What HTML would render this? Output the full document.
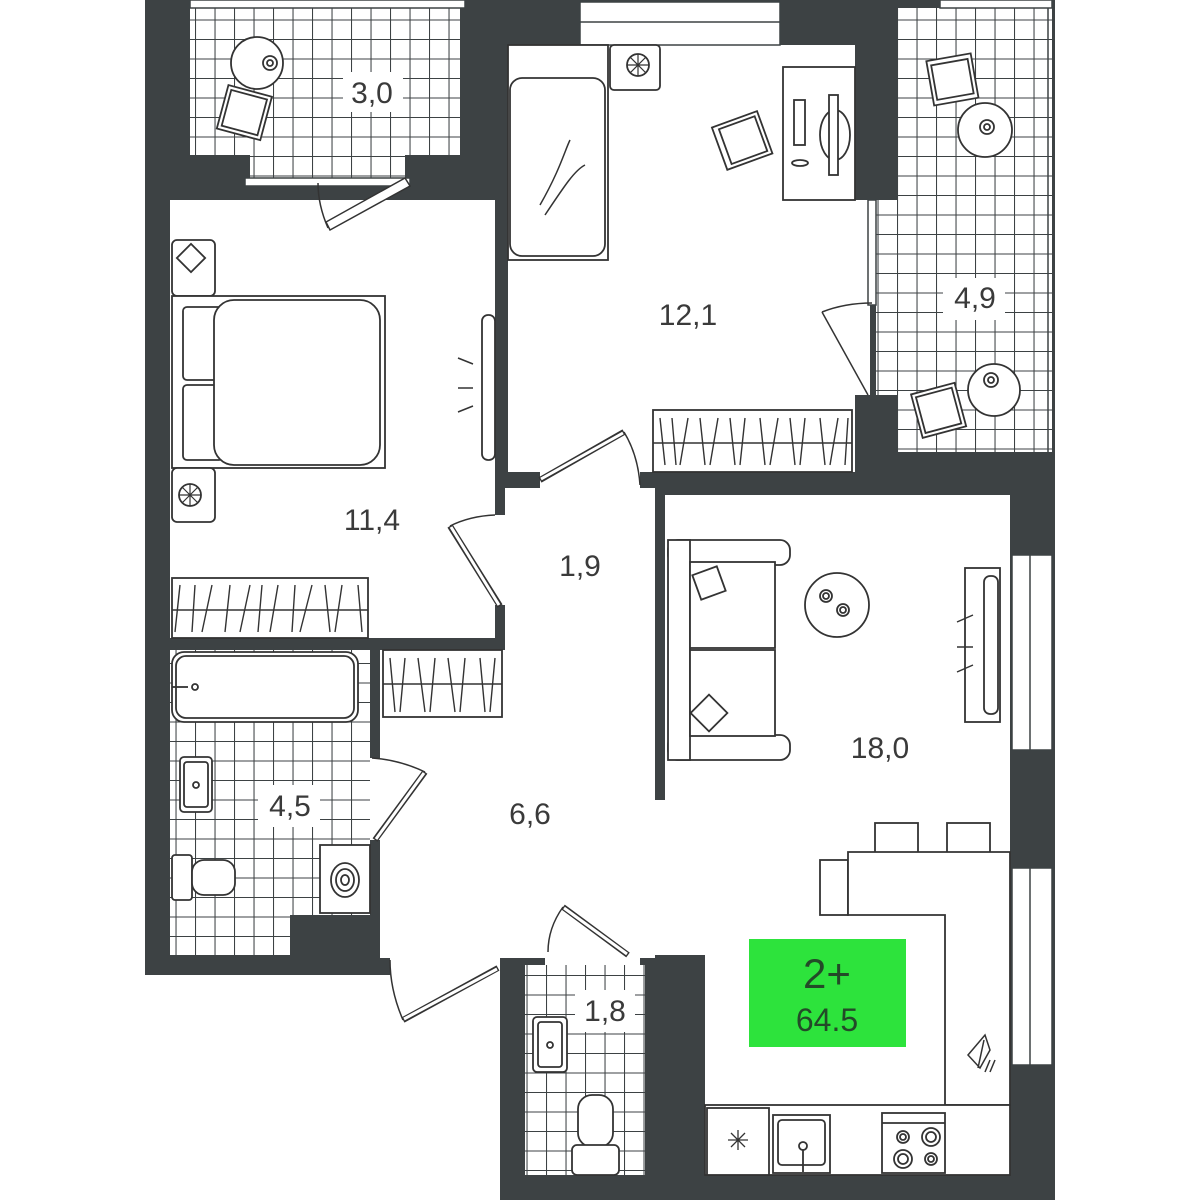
<!DOCTYPE html>
<html><head><meta charset="utf-8"><style>
html,body{margin:0;padding:0;background:#fff;}
svg{display:block;}
text{font-family:"Liberation Sans",sans-serif;fill:#3a3a3a;}
</style></head><body>
<svg width="1200" height="1200" viewBox="0 0 1200 1200" xmlns="http://www.w3.org/2000/svg">
<defs>
<pattern id="t" width="19.5" height="19.5" patternUnits="userSpaceOnUse">
<rect width="19.5" height="19.5" fill="#fff"/>
<path d="M0 0H19.5M0 0V19.5" stroke="#3d4244" stroke-width="2.1" fill="none"/>
</pattern>
</defs>
<rect width="1200" height="1200" fill="#fff"/>
<polygon points="145,0 1055,0 1055,1200 500,1200 500,955 390,955 390,975 145,975" fill="#3d4244"/>
<rect x="190" y="8" width="270" height="147" fill="url(#t)"/>
<rect x="250" y="150" width="155" height="30" fill="url(#t)"/>
<rect x="245" y="178" width="165" height="8" fill="#fff" stroke="#3d4244" stroke-width="1.5"/>
<rect x="190" y="0" width="275" height="8" fill="#fff" stroke="#3d4244" stroke-width="1.5"/>
<rect x="897" y="8" width="155" height="444" fill="url(#t)"/>
<rect x="876" y="200" width="30" height="195" fill="url(#t)"/>
<rect x="897" y="395" width="30" height="57" fill="url(#t)"/>
<rect x="940" y="0" width="112" height="8" fill="#fff" stroke="#3d4244" stroke-width="1.5"/>
<line x1="1048" y1="8" x2="1048" y2="452" stroke="#3d4244" stroke-width="1.5"/>
<rect x="170" y="200" width="325" height="438" fill="#fff"/>
<rect x="508" y="45" width="347" height="427" fill="#fff"/>
<rect x="850" y="200" width="20" height="195" fill="#fff"/>
<rect x="580" y="2" width="200" height="43" fill="#fff" stroke="#3d4244" stroke-width="1.5"/>
<line x1="580" y1="22" x2="780" y2="22" stroke="#3d4244" stroke-width="1.5"/>
<rect x="868" y="200" width="8" height="105" fill="#fff" stroke="#3d4244" stroke-width="1.5"/>
<rect x="505" y="488" width="150" height="470" fill="#fff"/>
<rect x="380" y="650" width="130" height="308" fill="#fff"/>
<rect x="390" y="950" width="110" height="30" fill="#fff"/>
<rect x="540" y="470" width="100" height="22" fill="#fff"/>
<rect x="490" y="515" width="20" height="90" fill="#fff"/>
<rect x="365" y="758" width="20" height="82" fill="#fff"/>
<rect x="545" y="945" width="95" height="25" fill="#fff"/>
<rect x="665" y="495" width="345" height="460" fill="#fff"/>
<rect x="655" y="800" width="20" height="155" fill="#fff"/>
<rect x="705" y="950" width="305" height="225" fill="#fff"/>
<rect x="1012" y="555" width="40" height="195" fill="#fff" stroke="#3d4244" stroke-width="1.5"/>
<line x1="1030" y1="555" x2="1030" y2="750" stroke="#3d4244" stroke-width="1.5"/>
<rect x="1012" y="868" width="40" height="197" fill="#fff" stroke="#3d4244" stroke-width="1.5"/>
<line x1="1030" y1="868" x2="1030" y2="1065" stroke="#3d4244" stroke-width="1.5"/>
<rect x="170" y="650" width="200" height="305" fill="url(#t)"/>
<rect x="290" y="915" width="90" height="60" fill="#3d4244"/>
<rect x="525" y="965" width="120" height="210" fill="url(#t)"/>

<g fill="#fff" stroke="#333" stroke-width="1.8">
<rect x="172" y="240" width="43" height="56" rx="5"/>
<rect x="181" y="248" width="20" height="20" transform="rotate(45 191 258)"/>
<rect x="172" y="296" width="213" height="172"/>
<rect x="183" y="307" width="40" height="73" rx="4"/>
<rect x="183" y="385" width="40" height="75" rx="4"/>
<rect x="214" y="300" width="166" height="165" rx="20"/>
<rect x="172" y="468" width="43" height="54" rx="5"/>
<circle cx="190" cy="495" r="11"/>
<path d="M179 495H201M190 484V506M182 487L198 503M198 487L182 503" stroke-width="1.2"/>
<rect x="172" y="578" width="196" height="60"/>
<path d="M172 610H368M180 585L175 632M195 585L192 632M212 585L202 632M230 585L225 632M250 585L240 632M262 585L258 632M278 585L270 632M295 585L292 632M312 585L300 632M325 585L330 632M342 585L335 632M358 585L362 632" stroke-width="1.4"/>
<rect x="482" y="315" width="13" height="145" rx="6"/>
<path d="M458 358L473 364M458 388H473M458 412L473 406" stroke-width="1.5"/>
<rect x="508" y="45" width="100" height="215"/>
<rect x="510" y="78" width="95" height="178" rx="12"/>
<path d="M540 205C560 170 565 150 570 140M545 215C565 185 575 170 585 165" fill="none" stroke-width="1.5"/>
<rect x="610" y="45" width="50" height="45" rx="4"/>
<circle cx="638" cy="65" r="11"/>
<path d="M627 65H649M638 54V76M630 57L646 73M646 57L630 73" stroke-width="1.2"/>
<rect x="783" y="67" width="72" height="133"/>
<rect x="794" y="100" width="11" height="45"/>
<ellipse cx="800" cy="163" rx="8" ry="3"/>
<ellipse cx="835" cy="135" rx="15" ry="25"/>
<rect x="829" y="95" width="9" height="80"/>
<g transform="rotate(-20 742 140)"><rect x="718" y="118" width="48" height="45"/><rect x="724" y="122" width="38" height="37"/></g>
<rect x="653" y="410" width="199" height="62"/>
<path d="M653 443H852M660 418L665 465M672 418L676 465M688 418L680 465M700 418L705 465M718 418L710 465M730 418L735 465M745 418L740 465M760 418L765 465M778 418L770 465M790 418L795 465M805 418L800 465M820 418L825 465M838 418L830 465M848 418L845 465" stroke-width="1.4"/>
<rect x="668" y="540" width="122" height="25" rx="10"/>
<rect x="668" y="735" width="122" height="25" rx="10"/>
<rect x="668" y="540" width="22" height="220"/>
<rect x="690" y="562" width="85" height="86"/>
<rect x="690" y="650" width="85" height="86"/>
<rect x="696" y="570" width="26" height="26" transform="rotate(-20 709 583)"/>
<rect x="696" y="700" width="26" height="26" transform="rotate(45 709 713)"/>
<circle cx="837" cy="605" r="32"/>
<circle cx="826" cy="596" r="6"/><circle cx="826" cy="596" r="3"/>
<circle cx="843" cy="610" r="6"/><circle cx="843" cy="610" r="3"/>
<rect x="965" y="568" width="35" height="154"/>
<rect x="984" y="576" width="14" height="138" rx="6"/>
<path d="M957 622L973 615M957 647H973M957 672L973 665" stroke-width="1.5"/>
<rect x="875" y="823" width="43" height="30"/>
<rect x="947" y="823" width="43" height="30"/>
<rect x="820" y="860" width="28" height="55"/>
<polygon points="848,852 1010,852 1010,1105 945,1105 945,915 848,915"/>
<rect x="705" y="1105" width="305" height="70"/>
<rect x="707" y="1108" width="62" height="67"/>
<path d="M728 1140H748M738 1130V1150M731 1133L745 1147M745 1133L731 1147" stroke-width="1.3"/>
<rect x="773" y="1115" width="57" height="58"/>
<rect x="778" y="1120" width="47" height="45" rx="4"/>
<line x1="803" y1="1150" x2="803" y2="1172"/>
<circle cx="803" cy="1146" r="4"/>
<rect x="882" y="1113" width="63" height="60"/>
<line x1="882" y1="1123" x2="945" y2="1123"/>
<circle cx="903" cy="1137" r="6"/><circle cx="903" cy="1137" r="3"/>
<circle cx="931" cy="1137" r="9"/><circle cx="931" cy="1137" r="5"/>
<circle cx="903" cy="1159" r="9"/><circle cx="903" cy="1159" r="5"/>
<circle cx="931" cy="1159" r="6"/><circle cx="931" cy="1159" r="3"/>
<path d="M968 1055L985 1035L990 1050L980 1068ZM984 1040L978 1068M990 1060L985 1072M995 1060L990 1072" stroke-width="1.5"/>
<rect x="533" y="1017" width="34" height="55" rx="4"/>
<rect x="538" y="1022" width="24" height="45" rx="3"/>
<circle cx="550" cy="1045" r="3"/>
<rect x="578" y="1095" width="35" height="52" rx="14"/>
<rect x="572" y="1145" width="47" height="30" rx="5"/>
<rect x="172" y="652" width="186" height="70" rx="12"/>
<rect x="176" y="656" width="178" height="62" rx="10"/>
<circle cx="195" cy="687" r="3"/><line x1="172" y1="687" x2="188" y2="687"/>
<rect x="180" y="757" width="32" height="55" rx="4"/>
<rect x="184" y="762" width="24" height="45" rx="3"/>
<circle cx="196" cy="785" r="3"/>
<rect x="172" y="855" width="20" height="45" rx="3"/>
<rect x="192" y="860" width="43" height="35" rx="12"/>
<rect x="320" y="845" width="50" height="68"/>
<ellipse cx="345" cy="880" rx="14" ry="17"/><ellipse cx="345" cy="880" rx="9" ry="11"/><ellipse cx="345" cy="880" rx="4" ry="5"/>
<rect x="383" y="650" width="119" height="67"/>
<path d="M383 684H502M390 658L395 712M405 658L400 712M418 658L425 712M435 658L430 712M448 658L455 712M465 658L460 712M480 658L485 712M495 658L490 712" stroke-width="1.4"/>
<circle cx="257" cy="63" r="26"/>
<circle cx="270" cy="63" r="7"/><circle cx="270" cy="63" r="3"/>
<g transform="rotate(15 244 112)"><rect x="222" y="90" width="45" height="45"/><rect x="226" y="94" width="37" height="37"/></g>
<g transform="rotate(-10 952 80)"><rect x="930" y="57" width="45" height="45"/><rect x="934" y="62" width="37" height="35"/></g>
<circle cx="985" cy="130" r="27"/>
<circle cx="987" cy="127" r="7"/><circle cx="987" cy="127" r="3"/>
<circle cx="994" cy="390" r="26"/>
<circle cx="991" cy="380" r="7"/><circle cx="991" cy="380" r="3"/>
<g transform="rotate(-15 938 410)"><rect x="916" y="388" width="45" height="45"/><rect x="920" y="392" width="37" height="37"/></g>
</g>

<g fill="none" stroke="#333" stroke-width="1.5">
<path d="M405 178L326 222L330 230L410 186Z" fill="#fff"/>
<path d="M328 228Q318 205 318 183"/>
<path d="M450 526L500 606" stroke-width="6"/><path d="M451 527L499 605" stroke-width="3" stroke="#fff"/>
<path d="M450 526Q470 516 495 515"/>
<path d="M540 480L624 432" stroke-width="6"/><path d="M541 479L623 433" stroke-width="3" stroke="#fff"/>
<path d="M624 432Q638 455 640 485"/>
<path d="M822 312L868 395"/><path d="M822 312Q845 303 872 303"/>
<path d="M375 840L425 772" stroke-width="6"/><path d="M376 839L424 773" stroke-width="3" stroke="#fff"/>
<path d="M425 772Q400 760 372 758"/>
<path d="M563 907L628 955" stroke-width="6"/><path d="M564 908L627 954" stroke-width="3" stroke="#fff"/>
<path d="M563 907Q548 928 548 952"/>
<path d="M403 1020L498 968" stroke-width="6"/><path d="M404 1019L497 969" stroke-width="3" stroke="#fff"/>
<path d="M403 1020Q390 990 390 960"/>
</g>

<g font-size="30" text-anchor="middle">
<rect x="343" y="72" width="60" height="40" fill="#fff"/>
<text x="372" y="103">3,0</text>
<text x="688" y="325">12,1</text>
<rect x="943" y="278" width="62" height="42" fill="#fff"/>
<text x="975" y="308">4,9</text>
<text x="372" y="530">11,4</text>
<text x="580" y="576">1,9</text>
<text x="880" y="758">18,0</text>
<text x="530" y="824">6,6</text>
<rect x="258" y="785" width="62" height="42" fill="#fff"/>
<text x="290" y="816">4,5</text>
<rect x="575" y="990" width="60" height="42" fill="#fff"/>
<text x="605" y="1021">1,8</text>
</g>
<rect x="749" y="939" width="157" height="108" fill="#2de33c"/>
<text x="827" y="988" font-size="42" text-anchor="middle" style="fill:#234a28">2+</text>
<text x="827" y="1031" font-size="32" text-anchor="middle" style="fill:#234a28">64.5</text>
</svg>
</body></html>
